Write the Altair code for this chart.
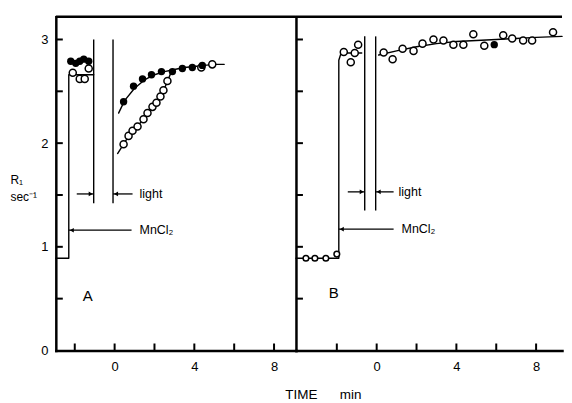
import altair as alt
import pandas as pd

FONT = "Liberation Sans"
Y_MAX = 3.22
H = 335
A_W, B_W = 241, 267
A_DOM = [-2.95, 9.1]
B_DOM = [-4.05, 9.3]

# ---------------- Panel A data ----------------
a_pre_filled_t = [-2.2, -1.95, -1.75, -1.55, -1.3]
a_pre_filled_r = [2.79, 2.77, 2.79, 2.81, 2.79]
a_pre_open_t = [-2.1, -1.75, -1.5, -1.3]
a_pre_open_r = [2.68, 2.62, 2.62, 2.72]
a_post_filled_t = [0.45, 0.95, 1.4, 1.85, 2.35, 2.9, 3.4, 3.9, 4.4]
a_post_filled_r = [2.40, 2.55, 2.62, 2.66, 2.69, 2.69, 2.72, 2.73, 2.75]
a_post_open_t = [0.45, 0.7, 0.9, 1.15, 1.45, 1.65, 1.9, 2.1, 2.3, 2.45, 2.65, 4.35, 4.9]
a_post_open_r = [1.99, 2.07, 2.12, 2.16, 2.23, 2.29, 2.35, 2.39, 2.45, 2.51, 2.60, 2.73, 2.76]
a_fit_filled_t = [0.2, 0.5, 1.0, 1.5, 2.0, 2.5, 3.0, 3.5, 4.0, 4.5, 5.0, 5.5]
a_fit_filled_r = [2.29, 2.41, 2.53, 2.61, 2.66, 2.69, 2.71, 2.73, 2.74, 2.75, 2.76, 2.76]
a_fit_open_t = [0.15, 0.65, 1.15, 1.65, 2.15, 2.55, 2.85]
a_fit_open_r = [1.90, 2.05, 2.16, 2.29, 2.41, 2.55, 2.69]
a_mn_t = [-2.95, -2.3, -2.3, -1.05]
a_mn_r = [0.89, 0.89, 2.66, 2.66]
a_light_t = [-1.05, -0.08]
a_light_lo, a_light_hi = 1.42, 3.0
a_light_arrow_r = 1.51
a_mn_arrow_r = 1.16

# ---------------- Panel B data ----------------
b_pre_t = [-3.55, -3.1, -2.55, -2.0]
b_pre_r = [0.89, 0.89, 0.89, 0.93]
b_mid_t = [-1.65, -1.3, -1.1, -0.93]
b_mid_r = [2.88, 2.78, 2.87, 2.95]
b_post_t = [0.35, 0.8, 1.3, 1.85, 2.3, 2.85, 3.35, 3.85, 4.35, 4.85, 5.4, 6.35, 6.8, 7.35, 7.8, 8.85]
b_post_r = [2.875, 2.81, 2.91, 2.89, 2.96, 3.0, 2.99, 2.95, 2.95, 3.05, 2.94, 3.04, 3.01, 2.99, 2.99, 3.07]
b_post_filled_t = [5.9]
b_post_filled_r = [2.95]
b_mn_t = [-4.05, -1.9, -1.9, -1.8, -1.5, -0.75]
b_mn_r = [0.89, 0.89, 2.80, 2.86, 2.87, 2.87]
b_fit_t = [0.1, 1, 2, 3, 4, 5, 6, 7, 8, 9.3]
b_fit_r = [2.85, 2.89, 2.93, 2.96, 2.98, 2.99, 3.0, 3.01, 3.02, 3.03]
b_light_t = [-0.6, -0.05]
b_light_lo, b_light_hi = 1.35, 3.03
b_light_arrow_r = 1.53
b_mn_arrow_r = 1.17

x_tick_vals = [-2, 0, 2, 4, 6, 8]
y_tick_vals = [0.5, 1.0, 1.5, 2.0, 2.5, 3.0]
x_label_vals = [0, 4, 8]
y_label_vals = [0, 1, 2, 3]
NB = "\u00a0"
x_title = f"TIME{NB * 6}min"
y_title = ["R₁", "sec⁻¹"]


def df(t, r, **extra):
    d = pd.DataFrame({"t": t, "r": r})
    for k, v in extra.items():
        d[k] = v
    return d


class Panel:
    def __init__(self, dom, width, x_axis, y_axis):
        self.dom, self.width, self.x_axis, self.y_axis = dom, width, x_axis, y_axis
        self.layers = []

    def X(self, field="t"):
        return alt.X(f"{field}:Q", scale=alt.Scale(domain=self.dom, nice=False, zero=False), axis=self.x_axis)

    def Y(self, field="r"):
        return alt.Y(f"{field}:Q", scale=alt.Scale(domain=[0, Y_MAX], nice=False, zero=False), axis=self.y_axis)

    def line(self, t, r, width=1.4):
        d = df(t, r, o=list(range(len(t))))
        self.layers.append(alt.Chart(d).mark_line(color="black", strokeWidth=width, strokeCap="round",
                                                  strokeJoin="round").encode(x=self.X(), y=self.Y(), order="o:Q"))

    def open_pts(self, t, r, size=50):
        self.layers.append(alt.Chart(df(t, r)).mark_circle(size=size, fill="white", stroke="black", strokeWidth=1.5,
                                                           opacity=1).encode(x=self.X(), y=self.Y()))

    def filled_pts(self, t, r, size=55):
        self.layers.append(alt.Chart(df(t, r)).mark_circle(size=size, color="black", opacity=1).encode(
            x=self.X(), y=self.Y()))

    def frame(self):
        xt = alt.Chart(pd.DataFrame({"t": x_tick_vals})).mark_rule(color="black", strokeWidth=2).encode(
            x=self.X(), y=alt.value(H), y2=alt.value(H - 7))
        yt = alt.Chart(pd.DataFrame({"r": y_tick_vals})).mark_rule(color="black", strokeWidth=2).encode(
            y=self.Y(), x=alt.value(0), x2=alt.value(7))
        top = alt.Chart(pd.DataFrame({"t": [0]})).mark_rule(color="black", strokeWidth=2.5).encode(
            x=alt.value(0), x2=alt.value(self.width), y=alt.value(0))
        self.layers += [xt, yt, top]

    def light_rules(self, ts, lo, hi):
        d = pd.DataFrame({"t": ts, "r": [lo] * len(ts), "hi": [hi] * len(ts)})
        self.layers.append(alt.Chart(d).mark_rule(color="black", strokeWidth=1.4).encode(
            x=self.X(), y=self.Y(), y2="hi:Q"))

    def arrow(self, t_tail, t_head, r, direction):
        d = pd.DataFrame({"t": [t_tail], "t2": [t_head], "r": [r]})
        shaft = alt.Chart(d).mark_rule(color="black", strokeWidth=1.3).encode(x=self.X(), x2="t2:Q", y=self.Y())
        dh = pd.DataFrame({"t": [t_head], "r": [r]})
        off = -3 if direction == "right" else 3
        head = alt.Chart(dh).mark_point(shape=f"triangle-{direction}", filled=True, color="black", size=22,
                                        opacity=1, xOffset=off).encode(x=self.X(), y=self.Y())
        self.layers += [shaft, head]

    def label(self, t, r, text, size=12.5, align="left"):
        d = pd.DataFrame({"t": [t], "r": [r], "txt": [text]})
        self.layers.append(alt.Chart(d).mark_text(font=FONT, fontSize=size, align=align, baseline="middle",
                                                  color="black").encode(x=self.X(), y=self.Y(), text="txt:N"))

    def chart(self):
        return alt.layer(*self.layers).properties(width=self.width, height=H)


def bottom_axis(title=None, **kw):
    args = dict(values=x_label_vals, ticks=False, domain=True, domainColor="black", domainWidth=2.5,
                domainCap="square", labelFontSize=13, labelPadding=10, labelColor="black", labelFont=FONT,
                grid=False)
    if title is not None:
        args.update(title=title, titleFont=FONT, titleFontSize=13.5, titleFontWeight="normal", titleColor="black",
                    titleAlign="center", titleBaseline="middle", **kw)
    else:
        args.update(title="")
    return alt.Axis(**args)


# ---------------- Panel A ----------------
a_yaxis = alt.Axis(values=y_label_vals, ticks=False, domain=True, domainColor="black", domainWidth=2.5,
                   domainCap="square", labelFontSize=13, labelPadding=8, labelColor="black", labelFont=FONT,
                   grid=False, title=y_title, titleAngle=0, titleAlign="left", titleBaseline="top",
                   titleX=-46, titleY=158, titleFont=FONT, titleFontSize=12, titleFontWeight="normal",
                   titleColor="black", titleLineHeight=17)

pa = Panel(A_DOM, A_W, bottom_axis(), a_yaxis)
pa.line(a_mn_t, a_mn_r)
pa.frame()
pa.light_rules(a_light_t, a_light_lo, a_light_hi)
pa.arrow(-1.9, a_light_t[0], a_light_arrow_r, "right")
pa.arrow(0.9, a_light_t[1], a_light_arrow_r, "left")
pa.label(1.25, a_light_arrow_r, "light")
pa.arrow(0.85, -2.3, a_mn_arrow_r, "left")
pa.label(1.25, a_mn_arrow_r, "MnCl₂")
pa.label(-1.35, 0.53, "A", size=15, align="center")
pa.line(a_fit_filled_t, a_fit_filled_r)
pa.line(a_fit_open_t, a_fit_open_r)
pa.open_pts(a_pre_open_t, a_pre_open_r)
pa.filled_pts(a_pre_filled_t, a_pre_filled_r)
pa.open_pts(a_post_open_t, a_post_open_r)
pa.filled_pts(a_post_filled_t, a_post_filled_r)
chart_a = pa.chart()

# ---------------- Panel B ----------------
b_yaxis = alt.Axis(labels=False, ticks=False, domain=True, domainColor="black", domainWidth=2.5,
                   domainCap="square", grid=False, title="")

pb = Panel(B_DOM, B_W, bottom_axis(x_title, titleX=27, titleY=44), b_yaxis)
pb.line(b_mn_t, b_mn_r)
pb.frame()
pb.light_rules(b_light_t, b_light_lo, b_light_hi)
pb.arrow(-1.45, b_light_t[0], b_light_arrow_r, "right")
pb.arrow(0.85, b_light_t[1], b_light_arrow_r, "left")
pb.label(1.1, b_light_arrow_r, "light")
pb.arrow(0.85, -1.9, b_mn_arrow_r, "left")
pb.label(1.25, b_mn_arrow_r, "MnCl₂")
pb.label(-2.15, 0.55, "B", size=15, align="center")
pb.line(b_fit_t, b_fit_r)
pb.open_pts(b_pre_t, b_pre_r, size=32)
pb.open_pts(b_mid_t, b_mid_r)
pb.open_pts(b_post_t, b_post_r)
pb.filled_pts(b_post_filled_t, b_post_filled_r)
chart_b = pb.chart()

chart = (
    alt.hconcat(chart_a, chart_b, spacing=0, bounds="flush")
    .properties(padding={"left": 2, "top": 6, "right": 0, "bottom": 0}, background="white")
    .configure_view(strokeWidth=0)
    .configure_axis(grid=False)
)

chart.save("out.html", embed_options={"renderer": "svg", "actions": False})
